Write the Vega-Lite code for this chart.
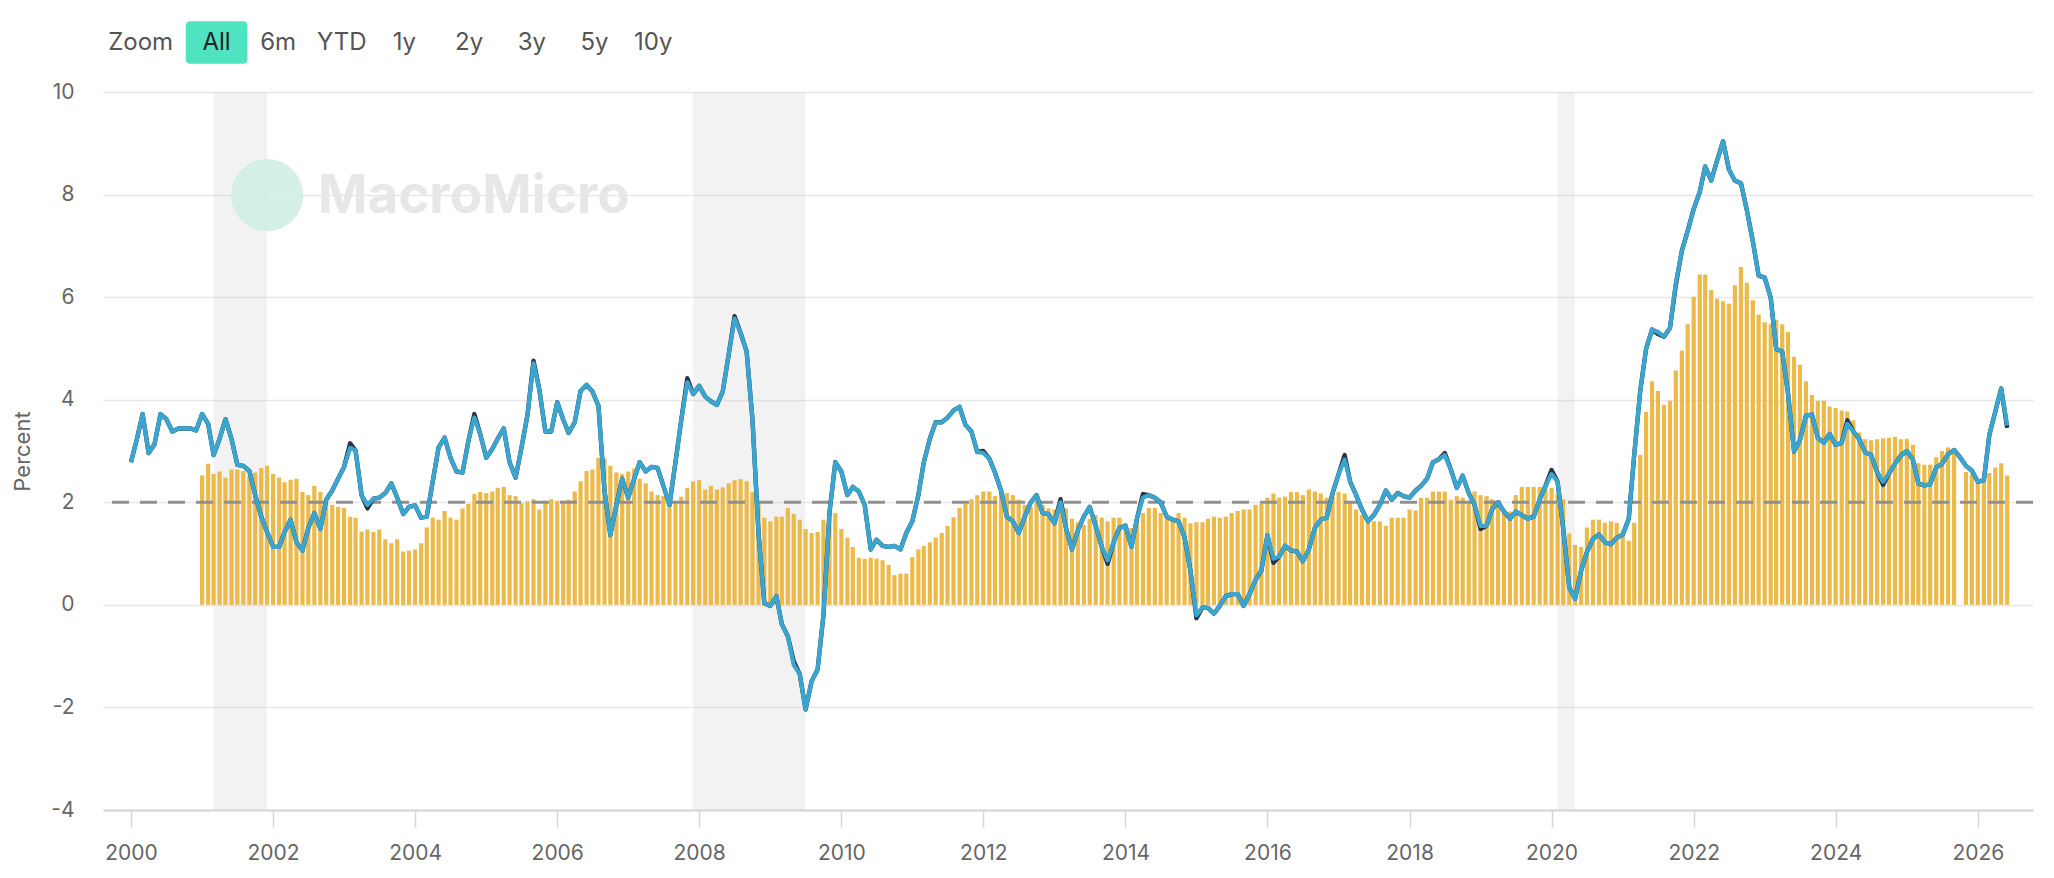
{
  "$schema": "https://vega.github.io/schema/vega-lite/v6.json",
  "width": 1930,
  "height": 718,
  "autosize": "none",
  "padding": {"left": 103, "top": 92, "right": 21, "bottom": 68},
  "background": "white",
  "config": {
    "font": "Inter",
    "view": {"stroke": null},
    "axisX": {"grid": false, "domainColor": "#d6d6d6", "domainWidth": 2, "tickColor": "#d6d6d6", "tickSize": 17, "tickWidth": 1.5, "labelFontSize": 21, "labelColor": "#666666", "labelPadding": 15},
    "axisY": {"grid": true, "gridColor": "#e6e6e6", "gridWidth": 1.5, "domain": false, "ticks": false, "labelFontSize": 21, "labelColor": "#666666", "labelPadding": 29, "titleFontSize": 22, "titleFontWeight": "normal", "titleColor": "#666666", "titleAngle": -90, "titleBaseline": "middle", "titleX": -81, "titleY": 359}
  },
  "datasets": {
    "recessions": [
      {"start": "2001-03-01", "end": "2001-11-30"},
      {"start": "2007-12-01", "end": "2009-06-30"},
      {"start": "2020-02-01", "end": "2020-04-30"}
    ],
    "monthly": [
      {"date":"2000-01-01","cpi":2.78,"alt":2.78},
      {"date":"2000-02-01","cpi":3.24,"alt":3.24},
      {"date":"2000-03-01","cpi":3.72,"alt":3.72},
      {"date":"2000-04-01","cpi":2.96,"alt":2.96},
      {"date":"2000-05-01","cpi":3.13,"alt":3.13},
      {"date":"2000-06-01","cpi":3.72,"alt":3.72},
      {"date":"2000-07-01","cpi":3.62,"alt":3.62},
      {"date":"2000-08-01","cpi":3.38,"alt":3.38},
      {"date":"2000-09-01","cpi":3.44,"alt":3.44},
      {"date":"2000-10-01","cpi":3.44,"alt":3.44},
      {"date":"2000-11-01","cpi":3.44,"alt":3.44},
      {"date":"2000-12-01","cpi":3.40,"alt":3.40},
      {"date":"2001-01-01","cpi":3.72,"alt":3.72,"core":2.52},
      {"date":"2001-02-01","cpi":3.53,"alt":3.53,"core":2.75},
      {"date":"2001-03-01","cpi":2.92,"alt":2.92,"core":2.55},
      {"date":"2001-04-01","cpi":3.24,"alt":3.24,"core":2.60},
      {"date":"2001-05-01","cpi":3.62,"alt":3.62,"core":2.48},
      {"date":"2001-06-01","cpi":3.24,"alt":3.24,"core":2.64},
      {"date":"2001-07-01","cpi":2.73,"alt":2.73,"core":2.64},
      {"date":"2001-08-01","cpi":2.71,"alt":2.71,"core":2.61},
      {"date":"2001-09-01","cpi":2.61,"alt":2.61,"core":2.50},
      {"date":"2001-10-01","cpi":2.14,"alt":2.14,"core":2.58},
      {"date":"2001-11-01","cpi":1.72,"alt":1.72,"core":2.67},
      {"date":"2001-12-01","cpi":1.42,"alt":1.42,"core":2.71},
      {"date":"2002-01-01","cpi":1.13,"alt":1.13,"core":2.55},
      {"date":"2002-02-01","cpi":1.13,"alt":1.13,"core":2.48},
      {"date":"2002-03-01","cpi":1.42,"alt":1.42,"core":2.39},
      {"date":"2002-04-01","cpi":1.66,"alt":1.66,"core":2.44},
      {"date":"2002-05-01","cpi":1.22,"alt":1.22,"core":2.46},
      {"date":"2002-06-01","cpi":1.06,"alt":1.06,"core":2.20},
      {"date":"2002-07-01","cpi":1.50,"alt":1.50,"core":2.14},
      {"date":"2002-08-01","cpi":1.79,"alt":1.79,"core":2.32},
      {"date":"2002-09-01","cpi":1.48,"alt":1.48,"core":2.20},
      {"date":"2002-10-01","cpi":2.05,"alt":2.05,"core":2.05},
      {"date":"2002-11-01","cpi":2.23,"alt":2.23,"core":1.95},
      {"date":"2002-12-01","cpi":2.46,"alt":2.46,"core":1.91},
      {"date":"2003-01-01","cpi":2.69,"alt":2.69,"core":1.89},
      {"date":"2003-02-01","cpi":3.06,"alt":3.15,"core":1.72},
      {"date":"2003-03-01","cpi":3.01,"alt":3.01,"core":1.70},
      {"date":"2003-04-01","cpi":2.14,"alt":2.14,"core":1.43},
      {"date":"2003-05-01","cpi":1.95,"alt":1.88,"core":1.47},
      {"date":"2003-06-01","cpi":2.07,"alt":2.07,"core":1.42},
      {"date":"2003-07-01","cpi":2.09,"alt":2.09,"core":1.47},
      {"date":"2003-08-01","cpi":2.18,"alt":2.18,"core":1.28},
      {"date":"2003-09-01","cpi":2.37,"alt":2.37,"core":1.20},
      {"date":"2003-10-01","cpi":2.09,"alt":2.09,"core":1.28},
      {"date":"2003-11-01","cpi":1.77,"alt":1.77,"core":1.04},
      {"date":"2003-12-01","cpi":1.91,"alt":1.91,"core":1.06},
      {"date":"2004-01-01","cpi":1.94,"alt":1.94,"core":1.08},
      {"date":"2004-02-01","cpi":1.70,"alt":1.70,"core":1.20},
      {"date":"2004-03-01","cpi":1.72,"alt":1.72,"core":1.51},
      {"date":"2004-04-01","cpi":2.41,"alt":2.41,"core":1.70},
      {"date":"2004-05-01","cpi":3.07,"alt":3.07,"core":1.66},
      {"date":"2004-06-01","cpi":3.26,"alt":3.26,"core":1.83},
      {"date":"2004-07-01","cpi":2.87,"alt":2.87,"core":1.70},
      {"date":"2004-08-01","cpi":2.60,"alt":2.60,"core":1.66},
      {"date":"2004-09-01","cpi":2.58,"alt":2.58,"core":1.88},
      {"date":"2004-10-01","cpi":3.19,"alt":3.19,"core":1.97},
      {"date":"2004-11-01","cpi":3.65,"alt":3.72,"core":2.16},
      {"date":"2004-12-01","cpi":3.33,"alt":3.33,"core":2.20},
      {"date":"2005-01-01","cpi":2.87,"alt":2.87,"core":2.18},
      {"date":"2005-02-01","cpi":3.04,"alt":3.04,"core":2.21},
      {"date":"2005-03-01","cpi":3.24,"alt":3.24,"core":2.28},
      {"date":"2005-04-01","cpi":3.44,"alt":3.44,"core":2.30},
      {"date":"2005-05-01","cpi":2.78,"alt":2.78,"core":2.14},
      {"date":"2005-06-01","cpi":2.48,"alt":2.48,"core":2.12},
      {"date":"2005-07-01","cpi":3.06,"alt":3.06,"core":1.98},
      {"date":"2005-08-01","cpi":3.70,"alt":3.70,"core":2.02},
      {"date":"2005-09-01","cpi":4.71,"alt":4.76,"core":2.06},
      {"date":"2005-10-01","cpi":4.20,"alt":4.20,"core":1.86},
      {"date":"2005-11-01","cpi":3.38,"alt":3.38,"core":2.03},
      {"date":"2005-12-01","cpi":3.38,"alt":3.38,"core":2.06},
      {"date":"2006-01-01","cpi":3.95,"alt":3.95,"core":2.03},
      {"date":"2006-02-01","cpi":3.61,"alt":3.61,"core":2.03},
      {"date":"2006-03-01","cpi":3.35,"alt":3.35,"core":2.05},
      {"date":"2006-04-01","cpi":3.56,"alt":3.56,"core":2.21},
      {"date":"2006-05-01","cpi":4.17,"alt":4.17,"core":2.41},
      {"date":"2006-06-01","cpi":4.29,"alt":4.29,"core":2.61},
      {"date":"2006-07-01","cpi":4.16,"alt":4.16,"core":2.64},
      {"date":"2006-08-01","cpi":3.88,"alt":3.88,"core":2.87},
      {"date":"2006-09-01","cpi":2.23,"alt":2.23,"core":2.85},
      {"date":"2006-10-01","cpi":1.36,"alt":1.36,"core":2.71},
      {"date":"2006-11-01","cpi":1.95,"alt":1.95,"core":2.58},
      {"date":"2006-12-01","cpi":2.46,"alt":2.46,"core":2.55},
      {"date":"2007-01-01","cpi":2.09,"alt":2.09,"core":2.60},
      {"date":"2007-02-01","cpi":2.46,"alt":2.46,"core":2.66},
      {"date":"2007-03-01","cpi":2.78,"alt":2.78,"core":2.46},
      {"date":"2007-04-01","cpi":2.60,"alt":2.60,"core":2.37},
      {"date":"2007-05-01","cpi":2.69,"alt":2.69,"core":2.21},
      {"date":"2007-06-01","cpi":2.67,"alt":2.67,"core":2.14},
      {"date":"2007-07-01","cpi":2.32,"alt":2.32,"core":2.12},
      {"date":"2007-08-01","cpi":1.95,"alt":1.95,"core":2.05},
      {"date":"2007-09-01","cpi":2.78,"alt":2.78,"core":2.03},
      {"date":"2007-10-01","cpi":3.61,"alt":3.61,"core":2.11},
      {"date":"2007-11-01","cpi":4.34,"alt":4.42,"core":2.28},
      {"date":"2007-12-01","cpi":4.11,"alt":4.11,"core":2.41},
      {"date":"2008-01-01","cpi":4.27,"alt":4.27,"core":2.43},
      {"date":"2008-02-01","cpi":4.06,"alt":4.06,"core":2.25},
      {"date":"2008-03-01","cpi":3.97,"alt":3.97,"core":2.32},
      {"date":"2008-04-01","cpi":3.90,"alt":3.90,"core":2.25},
      {"date":"2008-05-01","cpi":4.16,"alt":4.16,"core":2.29},
      {"date":"2008-06-01","cpi":4.89,"alt":4.89,"core":2.37},
      {"date":"2008-07-01","cpi":5.58,"alt":5.63,"core":2.43},
      {"date":"2008-08-01","cpi":5.30,"alt":5.30,"core":2.45},
      {"date":"2008-09-01","cpi":4.94,"alt":4.94,"core":2.41},
      {"date":"2008-10-01","cpi":3.61,"alt":3.61,"core":2.20},
      {"date":"2008-11-01","cpi":1.40,"alt":1.40,"core":2.00},
      {"date":"2008-12-01","cpi":0.03,"alt":0.03,"core":1.70},
      {"date":"2009-01-01","cpi":-0.02,"alt":-0.02,"core":1.63},
      {"date":"2009-02-01","cpi":0.17,"alt":0.17,"core":1.72},
      {"date":"2009-03-01","cpi":-0.38,"alt":-0.38,"core":1.72},
      {"date":"2009-04-01","cpi":-0.61,"alt":-0.61,"core":1.89},
      {"date":"2009-05-01","cpi":-1.17,"alt":-1.10,"core":1.77},
      {"date":"2009-06-01","cpi":-1.35,"alt":-1.35,"core":1.66},
      {"date":"2009-07-01","cpi":-2.04,"alt":-2.04,"core":1.48},
      {"date":"2009-08-01","cpi":-1.49,"alt":-1.49,"core":1.40},
      {"date":"2009-09-01","cpi":-1.26,"alt":-1.26,"core":1.42},
      {"date":"2009-10-01","cpi":-0.20,"alt":-0.20,"core":1.66},
      {"date":"2009-11-01","cpi":1.80,"alt":1.80,"core":1.68},
      {"date":"2009-12-01","cpi":2.78,"alt":2.78,"core":1.79},
      {"date":"2010-01-01","cpi":2.60,"alt":2.60,"core":1.48},
      {"date":"2010-02-01","cpi":2.14,"alt":2.14,"core":1.31},
      {"date":"2010-03-01","cpi":2.30,"alt":2.30,"core":1.13},
      {"date":"2010-04-01","cpi":2.21,"alt":2.21,"core":0.92},
      {"date":"2010-05-01","cpi":1.95,"alt":1.95,"core":0.90},
      {"date":"2010-06-01","cpi":1.08,"alt":1.08,"core":0.92},
      {"date":"2010-07-01","cpi":1.27,"alt":1.27,"core":0.90},
      {"date":"2010-08-01","cpi":1.15,"alt":1.15,"core":0.87},
      {"date":"2010-09-01","cpi":1.13,"alt":1.13,"core":0.78},
      {"date":"2010-10-01","cpi":1.15,"alt":1.15,"core":0.58},
      {"date":"2010-11-01","cpi":1.08,"alt":1.08,"core":0.61},
      {"date":"2010-12-01","cpi":1.40,"alt":1.40,"core":0.61},
      {"date":"2011-01-01","cpi":1.63,"alt":1.63,"core":0.93},
      {"date":"2011-02-01","cpi":2.14,"alt":2.14,"core":1.08},
      {"date":"2011-03-01","cpi":2.78,"alt":2.78,"core":1.15},
      {"date":"2011-04-01","cpi":3.24,"alt":3.24,"core":1.22},
      {"date":"2011-05-01","cpi":3.56,"alt":3.56,"core":1.31},
      {"date":"2011-06-01","cpi":3.56,"alt":3.56,"core":1.40},
      {"date":"2011-07-01","cpi":3.65,"alt":3.65,"core":1.54},
      {"date":"2011-08-01","cpi":3.79,"alt":3.79,"core":1.71},
      {"date":"2011-09-01","cpi":3.86,"alt":3.86,"core":1.89},
      {"date":"2011-10-01","cpi":3.51,"alt":3.51,"core":1.98},
      {"date":"2011-11-01","cpi":3.38,"alt":3.38,"core":2.06},
      {"date":"2011-12-01","cpi":2.98,"alt":2.98,"core":2.14},
      {"date":"2012-01-01","cpi":2.96,"alt":3.00,"core":2.21},
      {"date":"2012-02-01","cpi":2.85,"alt":2.85,"core":2.21},
      {"date":"2012-03-01","cpi":2.58,"alt":2.58,"core":2.12},
      {"date":"2012-04-01","cpi":2.23,"alt":2.23,"core":2.21},
      {"date":"2012-05-01","cpi":1.72,"alt":1.72,"core":2.18},
      {"date":"2012-06-01","cpi":1.63,"alt":1.63,"core":2.14},
      {"date":"2012-07-01","cpi":1.40,"alt":1.40,"core":2.05},
      {"date":"2012-08-01","cpi":1.72,"alt":1.72,"core":1.95},
      {"date":"2012-09-01","cpi":2.00,"alt":2.00,"core":1.91},
      {"date":"2012-10-01","cpi":2.14,"alt":2.14,"core":2.03},
      {"date":"2012-11-01","cpi":1.79,"alt":1.79,"core":1.95},
      {"date":"2012-12-01","cpi":1.77,"alt":1.77,"core":1.88},
      {"date":"2013-01-01","cpi":1.59,"alt":1.59,"core":1.86},
      {"date":"2013-02-01","cpi":2.00,"alt":2.06,"core":1.86},
      {"date":"2013-03-01","cpi":1.50,"alt":1.50,"core":1.88},
      {"date":"2013-04-01","cpi":1.08,"alt":1.08,"core":1.68},
      {"date":"2013-05-01","cpi":1.45,"alt":1.45,"core":1.61},
      {"date":"2013-06-01","cpi":1.72,"alt":1.72,"core":1.56},
      {"date":"2013-07-01","cpi":1.91,"alt":1.91,"core":1.68},
      {"date":"2013-08-01","cpi":1.54,"alt":1.54,"core":1.75},
      {"date":"2013-09-01","cpi":1.13,"alt":1.13,"core":1.70},
      {"date":"2013-10-01","cpi":0.87,"alt":0.80,"core":1.63},
      {"date":"2013-11-01","cpi":1.22,"alt":1.22,"core":1.70},
      {"date":"2013-12-01","cpi":1.50,"alt":1.50,"core":1.70},
      {"date":"2014-01-01","cpi":1.54,"alt":1.54,"core":1.59},
      {"date":"2014-02-01","cpi":1.13,"alt":1.13,"core":1.50},
      {"date":"2014-03-01","cpi":1.68,"alt":1.68,"core":1.61},
      {"date":"2014-04-01","cpi":2.09,"alt":2.16,"core":1.79},
      {"date":"2014-05-01","cpi":2.14,"alt":2.14,"core":1.89},
      {"date":"2014-06-01","cpi":2.09,"alt":2.09,"core":1.89},
      {"date":"2014-07-01","cpi":2.00,"alt":2.00,"core":1.79},
      {"date":"2014-08-01","cpi":1.72,"alt":1.72,"core":1.68},
      {"date":"2014-09-01","cpi":1.66,"alt":1.66,"core":1.66},
      {"date":"2014-10-01","cpi":1.63,"alt":1.63,"core":1.79},
      {"date":"2014-11-01","cpi":1.31,"alt":1.31,"core":1.70},
      {"date":"2014-12-01","cpi":0.67,"alt":0.67,"core":1.59},
      {"date":"2015-01-01","cpi":-0.20,"alt":-0.26,"core":1.61},
      {"date":"2015-02-01","cpi":-0.05,"alt":-0.05,"core":1.61},
      {"date":"2015-03-01","cpi":-0.06,"alt":-0.06,"core":1.68},
      {"date":"2015-04-01","cpi":-0.17,"alt":-0.17,"core":1.72},
      {"date":"2015-05-01","cpi":-0.02,"alt":-0.02,"core":1.70},
      {"date":"2015-06-01","cpi":0.17,"alt":0.17,"core":1.72},
      {"date":"2015-07-01","cpi":0.21,"alt":0.21,"core":1.79},
      {"date":"2015-08-01","cpi":0.21,"alt":0.21,"core":1.83},
      {"date":"2015-09-01","cpi":-0.02,"alt":-0.02,"core":1.86},
      {"date":"2015-10-01","cpi":0.21,"alt":0.21,"core":1.86},
      {"date":"2015-11-01","cpi":0.49,"alt":0.49,"core":1.95},
      {"date":"2015-12-01","cpi":0.67,"alt":0.67,"core":1.97},
      {"date":"2016-01-01","cpi":1.36,"alt":1.36,"core":2.09},
      {"date":"2016-02-01","cpi":0.90,"alt":0.82,"core":2.17},
      {"date":"2016-03-01","cpi":0.94,"alt":0.94,"core":2.09},
      {"date":"2016-04-01","cpi":1.15,"alt":1.15,"core":2.11},
      {"date":"2016-05-01","cpi":1.06,"alt":1.06,"core":2.20},
      {"date":"2016-06-01","cpi":1.04,"alt":1.04,"core":2.20},
      {"date":"2016-07-01","cpi":0.85,"alt":0.85,"core":2.14},
      {"date":"2016-08-01","cpi":1.08,"alt":1.08,"core":2.25},
      {"date":"2016-09-01","cpi":1.50,"alt":1.50,"core":2.21},
      {"date":"2016-10-01","cpi":1.66,"alt":1.66,"core":2.17},
      {"date":"2016-11-01","cpi":1.70,"alt":1.70,"core":2.09},
      {"date":"2016-12-01","cpi":2.18,"alt":2.18,"core":2.14},
      {"date":"2017-01-01","cpi":2.55,"alt":2.55,"core":2.20},
      {"date":"2017-02-01","cpi":2.83,"alt":2.92,"core":2.17},
      {"date":"2017-03-01","cpi":2.41,"alt":2.41,"core":2.00},
      {"date":"2017-04-01","cpi":2.14,"alt":2.14,"core":1.86},
      {"date":"2017-05-01","cpi":1.86,"alt":1.86,"core":1.75},
      {"date":"2017-06-01","cpi":1.63,"alt":1.63,"core":1.61},
      {"date":"2017-07-01","cpi":1.75,"alt":1.75,"core":1.63},
      {"date":"2017-08-01","cpi":1.95,"alt":1.95,"core":1.63},
      {"date":"2017-09-01","cpi":2.23,"alt":2.23,"core":1.54},
      {"date":"2017-10-01","cpi":2.05,"alt":2.05,"core":1.70},
      {"date":"2017-11-01","cpi":2.18,"alt":2.18,"core":1.70},
      {"date":"2017-12-01","cpi":2.12,"alt":2.12,"core":1.70},
      {"date":"2018-01-01","cpi":2.09,"alt":2.09,"core":1.86},
      {"date":"2018-02-01","cpi":2.23,"alt":2.23,"core":1.84},
      {"date":"2018-03-01","cpi":2.32,"alt":2.32,"core":2.09},
      {"date":"2018-04-01","cpi":2.46,"alt":2.46,"core":2.09},
      {"date":"2018-05-01","cpi":2.78,"alt":2.78,"core":2.21},
      {"date":"2018-06-01","cpi":2.84,"alt":2.84,"core":2.21},
      {"date":"2018-07-01","cpi":2.92,"alt":2.96,"core":2.21},
      {"date":"2018-08-01","cpi":2.64,"alt":2.64,"core":2.05},
      {"date":"2018-09-01","cpi":2.28,"alt":2.28,"core":2.12},
      {"date":"2018-10-01","cpi":2.52,"alt":2.52,"core":2.09},
      {"date":"2018-11-01","cpi":2.18,"alt":2.18,"core":2.03},
      {"date":"2018-12-01","cpi":1.95,"alt":1.95,"core":2.21},
      {"date":"2019-01-01","cpi":1.54,"alt":1.48,"core":2.14},
      {"date":"2019-02-01","cpi":1.54,"alt":1.54,"core":2.12},
      {"date":"2019-03-01","cpi":1.86,"alt":1.86,"core":2.06},
      {"date":"2019-04-01","cpi":2.00,"alt":2.00,"core":1.95},
      {"date":"2019-05-01","cpi":1.82,"alt":1.82,"core":1.86},
      {"date":"2019-06-01","cpi":1.68,"alt":1.68,"core":1.82},
      {"date":"2019-07-01","cpi":1.82,"alt":1.82,"core":2.14},
      {"date":"2019-08-01","cpi":1.75,"alt":1.75,"core":2.30},
      {"date":"2019-09-01","cpi":1.68,"alt":1.68,"core":2.30},
      {"date":"2019-10-01","cpi":1.72,"alt":1.72,"core":2.30},
      {"date":"2019-11-01","cpi":2.05,"alt":2.05,"core":2.30},
      {"date":"2019-12-01","cpi":2.32,"alt":2.32,"core":2.26},
      {"date":"2020-01-01","cpi":2.55,"alt":2.63,"core":2.28},
      {"date":"2020-02-01","cpi":2.40,"alt":2.40,"core":2.16},
      {"date":"2020-03-01","cpi":1.49,"alt":1.49,"core":2.06},
      {"date":"2020-04-01","cpi":0.34,"alt":0.34,"core":1.39},
      {"date":"2020-05-01","cpi":0.12,"alt":0.12,"core":1.17},
      {"date":"2020-06-01","cpi":0.67,"alt":0.67,"core":1.13},
      {"date":"2020-07-01","cpi":1.03,"alt":1.03,"core":1.51},
      {"date":"2020-08-01","cpi":1.29,"alt":1.29,"core":1.66},
      {"date":"2020-09-01","cpi":1.37,"alt":1.37,"core":1.66},
      {"date":"2020-10-01","cpi":1.22,"alt":1.22,"core":1.60},
      {"date":"2020-11-01","cpi":1.18,"alt":1.18,"core":1.63},
      {"date":"2020-12-01","cpi":1.31,"alt":1.31,"core":1.60},
      {"date":"2021-01-01","cpi":1.37,"alt":1.37,"core":1.39},
      {"date":"2021-02-01","cpi":1.68,"alt":1.68,"core":1.25},
      {"date":"2021-03-01","cpi":2.92,"alt":2.92,"core":1.60},
      {"date":"2021-04-01","cpi":4.17,"alt":4.17,"core":2.92},
      {"date":"2021-05-01","cpi":4.99,"alt":4.99,"core":3.76},
      {"date":"2021-06-01","cpi":5.37,"alt":5.37,"core":4.36},
      {"date":"2021-07-01","cpi":5.32,"alt":5.28,"core":4.17},
      {"date":"2021-08-01","cpi":5.23,"alt":5.23,"core":3.90},
      {"date":"2021-09-01","cpi":5.40,"alt":5.40,"core":3.98},
      {"date":"2021-10-01","cpi":6.28,"alt":6.24,"core":4.57},
      {"date":"2021-11-01","cpi":6.90,"alt":6.90,"core":4.96},
      {"date":"2021-12-01","cpi":7.29,"alt":7.29,"core":5.47},
      {"date":"2022-01-01","cpi":7.72,"alt":7.72,"core":6.01},
      {"date":"2022-02-01","cpi":8.05,"alt":8.05,"core":6.44},
      {"date":"2022-03-01","cpi":8.55,"alt":8.55,"core":6.44},
      {"date":"2022-04-01","cpi":8.27,"alt":8.27,"core":6.14},
      {"date":"2022-05-01","cpi":8.66,"alt":8.66,"core":5.97},
      {"date":"2022-06-01","cpi":9.04,"alt":9.04,"core":5.92},
      {"date":"2022-07-01","cpi":8.49,"alt":8.49,"core":5.87},
      {"date":"2022-08-01","cpi":8.27,"alt":8.27,"core":6.23},
      {"date":"2022-09-01","cpi":8.22,"alt":8.22,"core":6.59},
      {"date":"2022-10-01","cpi":7.70,"alt":7.70,"core":6.28},
      {"date":"2022-11-01","cpi":7.09,"alt":7.09,"core":5.94},
      {"date":"2022-12-01","cpi":6.42,"alt":6.42,"core":5.66},
      {"date":"2023-01-01","cpi":6.38,"alt":6.38,"core":5.51},
      {"date":"2023-02-01","cpi":5.99,"alt":5.99,"core":5.47},
      {"date":"2023-03-01","cpi":4.99,"alt":4.99,"core":5.56},
      {"date":"2023-04-01","cpi":4.94,"alt":4.94,"core":5.47},
      {"date":"2023-05-01","cpi":4.12,"alt":4.12,"core":5.32},
      {"date":"2023-06-01","cpi":2.99,"alt":2.99,"core":4.84},
      {"date":"2023-07-01","cpi":3.21,"alt":3.21,"core":4.68},
      {"date":"2023-08-01","cpi":3.69,"alt":3.69,"core":4.36},
      {"date":"2023-09-01","cpi":3.71,"alt":3.71,"core":4.09},
      {"date":"2023-10-01","cpi":3.26,"alt":3.26,"core":3.98},
      {"date":"2023-11-01","cpi":3.16,"alt":3.16,"core":3.98},
      {"date":"2023-12-01","cpi":3.33,"alt":3.33,"core":3.87},
      {"date":"2024-01-01","cpi":3.12,"alt":3.12,"core":3.84},
      {"date":"2024-02-01","cpi":3.16,"alt":3.16,"core":3.79},
      {"date":"2024-03-01","cpi":3.53,"alt":3.60,"core":3.77},
      {"date":"2024-04-01","cpi":3.38,"alt":3.38,"core":3.60},
      {"date":"2024-05-01","cpi":3.23,"alt":3.23,"core":3.36},
      {"date":"2024-06-01","cpi":2.97,"alt":2.97,"core":3.23},
      {"date":"2024-07-01","cpi":2.92,"alt":2.92,"core":3.21},
      {"date":"2024-08-01","cpi":2.59,"alt":2.59,"core":3.23},
      {"date":"2024-09-01","cpi":2.40,"alt":2.34,"core":3.25},
      {"date":"2024-10-01","cpi":2.56,"alt":2.56,"core":3.26},
      {"date":"2024-11-01","cpi":2.75,"alt":2.75,"core":3.28},
      {"date":"2024-12-01","cpi":2.91,"alt":2.91,"core":3.23},
      {"date":"2025-01-01","cpi":3.00,"alt":3.00,"core":3.24},
      {"date":"2025-02-01","cpi":2.83,"alt":2.83,"core":3.12},
      {"date":"2025-03-01","cpi":2.37,"alt":2.37,"core":2.76},
      {"date":"2025-04-01","cpi":2.33,"alt":2.33,"core":2.73},
      {"date":"2025-05-01","cpi":2.35,"alt":2.35,"core":2.73},
      {"date":"2025-06-01","cpi":2.68,"alt":2.68,"core":2.88},
      {"date":"2025-07-01","cpi":2.75,"alt":2.75,"core":3.00},
      {"date":"2025-08-01","cpi":2.94,"alt":2.94,"core":3.07},
      {"date":"2025-09-01","cpi":3.02,"alt":3.02,"core":2.97},
      {"date":"2025-10-01","cpi":2.88,"alt":2.88},
      {"date":"2025-11-01","cpi":2.71,"alt":2.71,"core":2.59},
      {"date":"2025-12-01","cpi":2.62,"alt":2.62,"core":2.54},
      {"date":"2026-01-01","cpi":2.40,"alt":2.40,"core":2.42},
      {"date":"2026-02-01","cpi":2.43,"alt":2.43,"core":2.44},
      {"date":"2026-03-01","cpi":3.31,"alt":3.31,"core":2.57},
      {"date":"2026-04-01","cpi":3.77,"alt":3.77,"core":2.68},
      {"date":"2026-05-01","cpi":4.22,"alt":4.22,"core":2.76},
      {"date":"2026-06-01","cpi":3.50,"alt":3.45,"core":2.52}
    ]
  },
  "layer": [
    {
      "data": {"name": "recessions"},
      "mark": {"type": "rect", "color": "#d8d8d8", "opacity": 0.32},
      "encoding": {
        "x": {"field": "start", "type": "temporal", "title": null,
              "scale": {"domain": [{"year": 1999, "month": 9, "date": 5}, {"year": 2026, "month": 9, "date": 16}]}},
        "x2": {"field": "end"}
      }
    },
    {
      "data": {"values": [{}]},
      "mark": {"type": "point", "shape": "circle", "filled": true, "size": 5200, "color": "#cfeee4", "opacity": 0.9},
      "encoding": {
        "x": {"datum": {"year": 2001, "month": 12, "date": 1}, "type": "temporal", "title": null},
        "y": {"datum": 7.99, "type": "quantitative", "title": "Percent"}
      }
    },
    {
      "data": {"values": [{}]},
      "mark": {"type": "text", "text": "MacroMicro", "fontSize": 53, "fontWeight": "bold", "color": "#e7e7e7", "align": "left", "baseline": "middle"},
      "encoding": {
        "x": {"datum": {"year": 2002, "month": 8, "date": 20}, "type": "temporal", "title": null},
        "y": {"datum": 7.95, "type": "quantitative", "title": "Percent"}
      }
    },
    {
      "data": {"name": "monthly"},
      "mark": {"type": "bar", "size": 4.2, "color": "#EBBA4B"},
      "encoding": {
        "x": {
          "field": "date", "type": "temporal", "title": null,
          "scale": {"domain": [{"year": 1999, "month": 9, "date": 5}, {"year": 2026, "month": 9, "date": 16}]},
          "axis": {
            "format": "%Y",
            "values": [{"year": 2000}, {"year": 2002}, {"year": 2004}, {"year": 2006}, {"year": 2008}, {"year": 2010}, {"year": 2012}, {"year": 2014}, {"year": 2016}, {"year": 2018}, {"year": 2020}, {"year": 2022}, {"year": 2024}, {"year": 2026}]
          }
        },
        "y": {
          "field": "core", "type": "quantitative", "title": "Percent",
          "scale": {"domain": [-4, 10], "nice": false, "zero": false},
          "axis": {"values": [-4, -2, 0, 2, 4, 6, 8, 10], "labelExpr": "toString(datum.value)"}
        }
      }
    },
    {
      "data": {"values": [{}]},
      "mark": {"type": "rule", "color": "#909090", "strokeWidth": 3, "strokeDash": [17, 11]},
      "encoding": {"y": {"datum": 2, "type": "quantitative", "title": "Percent"}}
    },
    {
      "data": {"name": "monthly"},
      "mark": {"type": "line", "color": "#2B3445", "strokeWidth": 4.4, "strokeJoin": "round"},
      "encoding": {
        "x": {"field": "date", "type": "temporal", "title": null},
        "y": {"field": "alt", "type": "quantitative", "title": "Percent"}
      }
    },
    {
      "data": {"name": "monthly"},
      "mark": {"type": "line", "color": "#3AA6D0", "strokeWidth": 4.2, "strokeJoin": "round"},
      "encoding": {
        "x": {"field": "date", "type": "temporal", "title": null},
        "y": {"field": "cpi", "type": "quantitative", "title": "Percent"}
      }
    },
    {
      "data": {"values": [{}]},
      "mark": {"type": "rect", "color": "#50E3C2", "cornerRadius": 4},
      "encoding": {
        "x": {"datum": {"year": 2000, "month": 10, "date": 9}, "type": "temporal", "title": null},
        "x2": {"datum": {"year": 2001, "month": 8, "date": 22}},
        "y": {"datum": 11.38, "type": "quantitative", "title": "Percent"},
        "y2": {"datum": 10.55}
      }
    },
    {
      "data": {"values": [{}]},
      "mark": {"type": "text", "text": "Zoom", "fontSize": 24, "color": "#555555"},
      "encoding": {"x": {"datum": {"year": 2000, "month": 2, "date": 20}, "type": "temporal", "title": null}, "y": {"datum": 10.955, "type": "quantitative", "title": "Percent"}}
    },
    {
      "data": {"values": [{}]},
      "mark": {"type": "text", "text": "All", "fontSize": 24, "color": "#222222"},
      "encoding": {"x": {"datum": {"year": 2001, "month": 3, "date": 16}, "type": "temporal", "title": null}, "y": {"datum": 10.955, "type": "quantitative", "title": "Percent"}}
    },
    {
      "data": {"values": [{}]},
      "mark": {"type": "text", "text": "6m", "fontSize": 24, "color": "#555555"},
      "encoding": {"x": {"datum": {"year": 2002, "month": 1, "date": 27}, "type": "temporal", "title": null}, "y": {"datum": 10.955, "type": "quantitative", "title": "Percent"}}
    },
    {
      "data": {"values": [{}]},
      "mark": {"type": "text", "text": "YTD", "fontSize": 24, "color": "#555555"},
      "encoding": {"x": {"datum": {"year": 2002, "month": 12, "date": 20}, "type": "temporal", "title": null}, "y": {"datum": 10.955, "type": "quantitative", "title": "Percent"}}
    },
    {
      "data": {"values": [{}]},
      "mark": {"type": "text", "text": "1y", "fontSize": 24, "color": "#555555"},
      "encoding": {"x": {"datum": {"year": 2003, "month": 11, "date": 7}, "type": "temporal", "title": null}, "y": {"datum": 10.955, "type": "quantitative", "title": "Percent"}}
    },
    {
      "data": {"values": [{}]},
      "mark": {"type": "text", "text": "2y", "fontSize": 24, "color": "#555555"},
      "encoding": {"x": {"datum": {"year": 2004, "month": 10, "date": 5}, "type": "temporal", "title": null}, "y": {"datum": 10.955, "type": "quantitative", "title": "Percent"}}
    },
    {
      "data": {"values": [{}]},
      "mark": {"type": "text", "text": "3y", "fontSize": 24, "color": "#555555"},
      "encoding": {"x": {"datum": {"year": 2005, "month": 8, "date": 24}, "type": "temporal", "title": null}, "y": {"datum": 10.955, "type": "quantitative", "title": "Percent"}}
    },
    {
      "data": {"values": [{}]},
      "mark": {"type": "text", "text": "5y", "fontSize": 24, "color": "#555555"},
      "encoding": {"x": {"datum": {"year": 2006, "month": 7, "date": 12}, "type": "temporal", "title": null}, "y": {"datum": 10.955, "type": "quantitative", "title": "Percent"}}
    },
    {
      "data": {"values": [{}]},
      "mark": {"type": "text", "text": "10y", "fontSize": 24, "color": "#555555"},
      "encoding": {"x": {"datum": {"year": 2007, "month": 5, "date": 10}, "type": "temporal", "title": null}, "y": {"datum": 10.955, "type": "quantitative", "title": "Percent"}}
    }
  ]
}
